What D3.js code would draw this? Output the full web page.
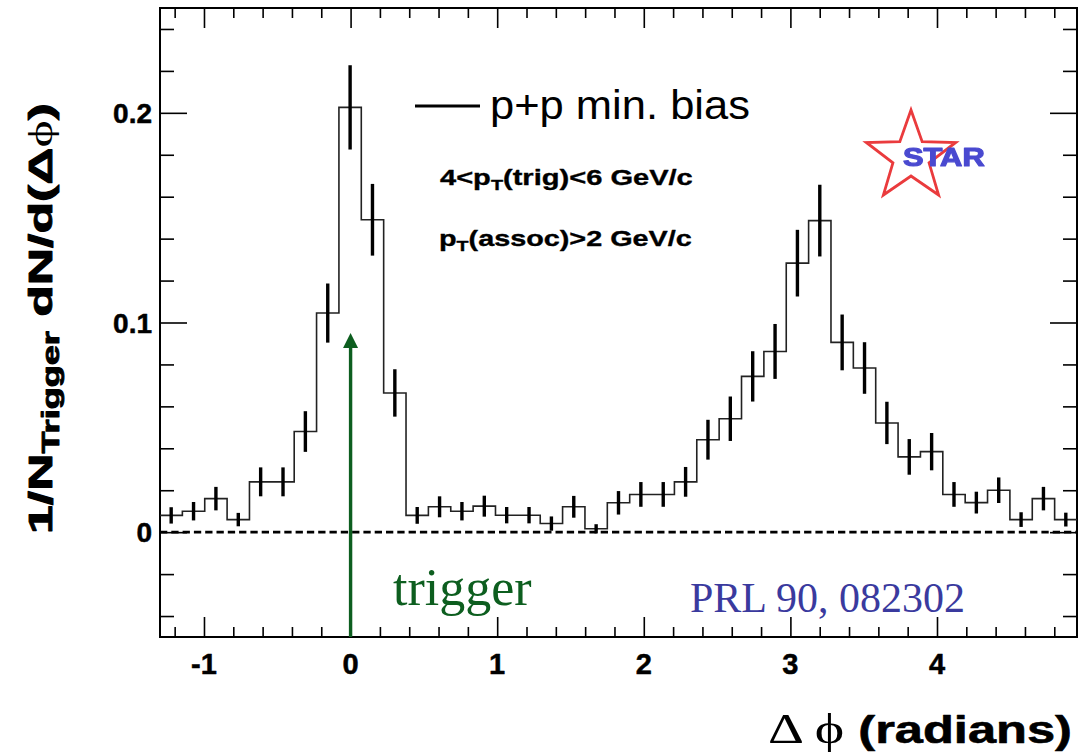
<!DOCTYPE html>
<html><head><meta charset="utf-8">
<script src="https://cdn.jsdelivr.net/npm/d3@7"></script>
<style>
html,body{margin:0;padding:0;background:#fff;}
svg{display:block;}
</style></head><body>
<svg id="chart" width="1082" height="753"></svg>
<script>
// Azimuthal correlation, p+p minimum bias: histogram over the full Δφ range
const phiRange = [-1.3, 4.955];
const nBins = 41;
const yieldValues = [
  0.008, 0.010, 0.016, 0.006, 0.024, 0.024, 0.048, 0.1045, 0.2026, 0.149,
  0.0664, 0.008, 0.0121, 0.010, 0.0124, 0.0081, 0.0081, 0.0041, 0.0121, 0.0016,
  0.014, 0.018, 0.018, 0.024, 0.0441, 0.0541, 0.0743, 0.0862, 0.1283, 0.1486,
  0.0905, 0.0783, 0.0521, 0.0359, 0.0384, 0.018, 0.0141, 0.020, 0.006, 0.016,
  0.006
];
const yieldErrors = [
  0.0039, 0.0044, 0.0056, 0.0032, 0.0069, 0.0069, 0.0097, 0.0141, 0.0201, 0.0171,
  0.0113, 0.0040, 0.0050, 0.0044, 0.0050, 0.0039, 0.0039, 0.0034, 0.0052, 0.0022,
  0.0056, 0.0059, 0.0059, 0.0071, 0.0095, 0.0106, 0.0120, 0.0131, 0.0159, 0.0171,
  0.0133, 0.0123, 0.0101, 0.0085, 0.0089, 0.0059, 0.0052, 0.0061, 0.0035, 0.0056,
  0.0033
];
const yRange = [-0.05, 0.25];
const xMajorTicks = [-1, 0, 1, 2, 3, 4];
const xTickLabels = ["-1", "0", "1", "2", "3", "4"];
const yMajorTicks = [0, 0.1, 0.2];
const yTickLabels = ["0", "0.1", "0.2"];
const triggerPhi = 0;          // trigger direction
const triggerArrowTop = 0.095; // arrow tip height in yield units

const svg = d3.select("#chart");
const frame = {left: 160, right: 1077, top: 8, bottom: 637};

const x = d3.scaleLinear().domain(phiRange).range([frame.left, frame.right]);
const y = d3.scaleLinear().domain(yRange).range([frame.bottom, frame.top]);

const SANS = "'Liberation Sans', Arial, Helvetica, sans-serif";
const SERIF = "'Liberation Serif', 'Times New Roman', serif";

// stretch a text element horizontally (in its own frame) to a given width
function fitWidth(sel, target, anchorX) {
  const w = sel.node().getBBox().width;
  const k = target / w;
  sel.attr("transform", `translate(${anchorX},0) scale(${k},1) translate(${-anchorX},0)`);
}
// thicken heavy bold lettering a little
function heavy(sel, w) {
  sel.attr("stroke", "currentColor").attr("stroke-width", w).attr("stroke-linejoin", "round");
}

// minor tick positions
const xMinor = d3.range(-12, 49, 2).map(d => d / 10).filter(d => !xMajorTicks.includes(d));
const yMinor = d3.range(-4, 25, 2).map(d => d / 100).filter(d => !yMajorTicks.some(m => Math.abs(m - d) < 1e-9));

function tickStyle(g) {
  g.select(".domain").remove();
  g.selectAll("line").attr("stroke", "#000").attr("stroke-width", 1.6);
  g.selectAll("text").remove();
}

// bottom and top axes (ticks pointing inward)
svg.append("g").attr("transform", `translate(0,${frame.bottom})`)
  .call(d3.axisBottom(x).tickValues(xMajorTicks).tickSizeInner(-20).tickSizeOuter(0)).call(tickStyle);
svg.append("g").attr("transform", `translate(0,${frame.bottom})`)
  .call(d3.axisBottom(x).tickValues(xMinor).tickSizeInner(-10).tickSizeOuter(0)).call(tickStyle);
svg.append("g").attr("transform", `translate(0,${frame.top})`)
  .call(d3.axisTop(x).tickValues(xMajorTicks).tickSizeInner(-20).tickSizeOuter(0)).call(tickStyle);
svg.append("g").attr("transform", `translate(0,${frame.top})`)
  .call(d3.axisTop(x).tickValues(xMinor).tickSizeInner(-10).tickSizeOuter(0)).call(tickStyle);
// left and right axes
svg.append("g").attr("transform", `translate(${frame.left},0)`)
  .call(d3.axisLeft(y).tickValues(yMajorTicks).tickSizeInner(-27).tickSizeOuter(0)).call(tickStyle);
svg.append("g").attr("transform", `translate(${frame.left},0)`)
  .call(d3.axisLeft(y).tickValues(yMinor).tickSizeInner(-14).tickSizeOuter(0)).call(tickStyle);
svg.append("g").attr("transform", `translate(${frame.right},0)`)
  .call(d3.axisRight(y).tickValues(yMajorTicks).tickSizeInner(-27).tickSizeOuter(0)).call(tickStyle);
svg.append("g").attr("transform", `translate(${frame.right},0)`)
  .call(d3.axisRight(y).tickValues(yMinor).tickSizeInner(-14).tickSizeOuter(0)).call(tickStyle);

// frame
svg.append("rect")
  .attr("x", frame.left).attr("y", frame.top)
  .attr("width", frame.right - frame.left).attr("height", frame.bottom - frame.top)
  .attr("fill", "none").attr("stroke", "#000").attr("stroke-width", 2);

// tick labels
xMajorTicks.forEach((v, i) => {
  const t = svg.append("text")
    .attr("x", x(v)).attr("y", 674)
    .attr("text-anchor", "middle").attr("fill", "#000").style("color", "#000")
    .attr("font-family", SANS).attr("font-weight", "bold").attr("font-size", 29)
    .text(xTickLabels[i]);
  heavy(t, 0.5);
});
yMajorTicks.forEach((v, i) => {
  const t = svg.append("text")
    .attr("x", 152).attr("y", y(v) + 10)
    .attr("text-anchor", "end").attr("fill", "#000").style("color", "#000")
    .attr("font-family", SANS).attr("font-weight", "bold").attr("font-size", 28)
    .text(yTickLabels[i]);
  heavy(t, 0.5);
});

// zero line
svg.append("line")
  .attr("x1", frame.left).attr("x2", frame.right)
  .attr("y1", y(0)).attr("y2", y(0))
  .attr("stroke", "#000").attr("stroke-width", 2.6).attr("stroke-dasharray", "7.3,4");

// histogram
const binWidth = (phiRange[1] - phiRange[0]) / nBins;
const bins = yieldValues.map((v, i) => ({
  x0: phiRange[0] + i * binWidth,
  x1: phiRange[0] + (i + 1) * binWidth,
  v: v,
  e: yieldErrors[i]
}));
const stepPts = bins.map(b => [b.x0, b.v]).concat([[phiRange[1], yieldValues[nBins - 1]]]);
const stepLine = d3.line().x(d => x(d[0])).y(d => y(d[1])).curve(d3.curveStepAfter);
svg.append("path")
  .attr("d", stepLine(stepPts))
  .attr("fill", "none").attr("stroke", "#222").attr("stroke-width", 1.6);

// error bars
svg.append("g").selectAll("line").data(bins).join("line")
  .attr("x1", b => x((b.x0 + b.x1) / 2)).attr("x2", b => x((b.x0 + b.x1) / 2))
  .attr("y1", b => y(b.v - b.e)).attr("y2", b => y(b.v + b.e))
  .attr("stroke", "#000").attr("stroke-width", 3.4);

// trigger arrow
const green = "#0d5e1f";
const ax = x(triggerPhi), tipY = y(triggerArrowTop);
svg.append("line")
  .attr("x1", ax).attr("x2", ax).attr("y1", frame.bottom).attr("y2", tipY + 12)
  .attr("stroke", green).attr("stroke-width", 3.4);
svg.append("path")
  .attr("d", `M${ax},${tipY} L${ax - 7.5},${tipY + 15} L${ax + 7.5},${tipY + 15} Z`)
  .attr("fill", green);
svg.append("text")
  .attr("x", 393).attr("y", 605)
  .attr("font-family", SERIF).attr("font-size", 52).attr("fill", green)
  .text("trigger");

svg.append("text")
  .attr("x", 690).attr("y", 612)
  .attr("font-family", SERIF).attr("font-size", 42).attr("fill", "#3a3a9e")
  .text("PRL 90, 082302");

// legend
svg.append("line")
  .attr("x1", 415).attr("x2", 480).attr("y1", 106).attr("y2", 106)
  .attr("stroke", "#000").attr("stroke-width", 3);
const leg = svg.append("text")
  .attr("x", 490).attr("y", 119)
  .attr("font-family", SANS).attr("font-size", 40)
  .text("p+p min. bias");
fitWidth(leg, 260, 490);

// kinematic cuts
const cut1 = svg.append("text")
  .attr("x", 440).attr("y", 185).style("color", "#000")
  .attr("font-family", SANS).attr("font-weight", "bold").attr("font-size", 22);
cut1.append("tspan").text("4<p");
cut1.append("tspan").attr("font-size", 15).attr("dy", 5).text("T");
cut1.append("tspan").attr("dy", -5).text("(trig)<6 GeV/c");
fitWidth(cut1, 253, 440);
heavy(cut1, 0.35);

const cut2 = svg.append("text")
  .attr("x", 439).attr("y", 246).style("color", "#000")
  .attr("font-family", SANS).attr("font-weight", "bold").attr("font-size", 22);
cut2.append("tspan").text("p");
cut2.append("tspan").attr("font-size", 15).attr("dy", 5).text("T");
cut2.append("tspan").attr("dy", -5).text("(assoc)>2 GeV/c");
fitWidth(cut2, 253, 439);
heavy(cut2, 0.35);

// STAR logo
const defs = svg.append("defs");
defs.append("filter").attr("id", "soft")
  .append("feGaussianBlur").attr("stdDeviation", 0.7);
const logo = svg.append("g").attr("filter", "url(#soft)");
const cx = 911, cy = 157, R = 47, r = 19;
const starPts = d3.range(10).map(i => {
  const a = -Math.PI / 2 + i * Math.PI / 5;
  const rr = i % 2 === 0 ? R : r;
  return [cx + rr * Math.cos(a), cy + rr * Math.sin(a)];
});
logo.append("path")
  .attr("d", d3.line()(starPts) + "Z")
  .attr("fill", "none").attr("stroke", "#ea3a3c").attr("stroke-width", 2.8);
const starTxt = logo.append("text")
  .attr("x", 903).attr("y", 166).style("color", "#4a4ad0")
  .attr("font-family", SANS).attr("font-weight", "bold").attr("font-size", 26)
  .attr("fill", "#4a4ad0")
  .text("STAR");
fitWidth(starTxt, 82, 903);
heavy(starTxt, 1.2);

// axis titles
const xt = svg.append("text")
  .attr("x", 768).attr("y", 743).style("color", "#000")
  .attr("font-family", SANS).attr("font-weight", "bold").attr("font-size", 38);
xt.append("tspan").attr("font-family", SERIF).attr("font-weight", "normal")
  .attr("stroke-width", 0).attr("font-size", 42).text("Δ ϕ");
xt.append("tspan").text(" (radians)");
fitWidth(xt, 304, 768);
heavy(xt, 0.6);
xt.select("tspan").attr("stroke-width", 0);

const ytG = svg.append("g").attr("transform", "translate(52,318.5) rotate(-90)");
const yt = ytG.append("text")
  .attr("x", 0).attr("y", 0).attr("text-anchor", "middle").style("color", "#000")
  .attr("font-family", SANS).attr("font-weight", "bold").attr("font-size", 33);
yt.append("tspan").text("1/N");
yt.append("tspan").attr("font-size", 23).attr("dy", 7).text("Trigger");
yt.append("tspan").attr("dy", -7).text(" dN/d(Δ");
yt.append("tspan").attr("font-family", SERIF).attr("font-weight", "normal").attr("class", "sym").text("ϕ");
yt.append("tspan").text(")");
fitWidth(yt, 431, 0);
heavy(yt, 0.9);
yt.select(".sym").attr("stroke-width", 0);
</script>
</body></html>
